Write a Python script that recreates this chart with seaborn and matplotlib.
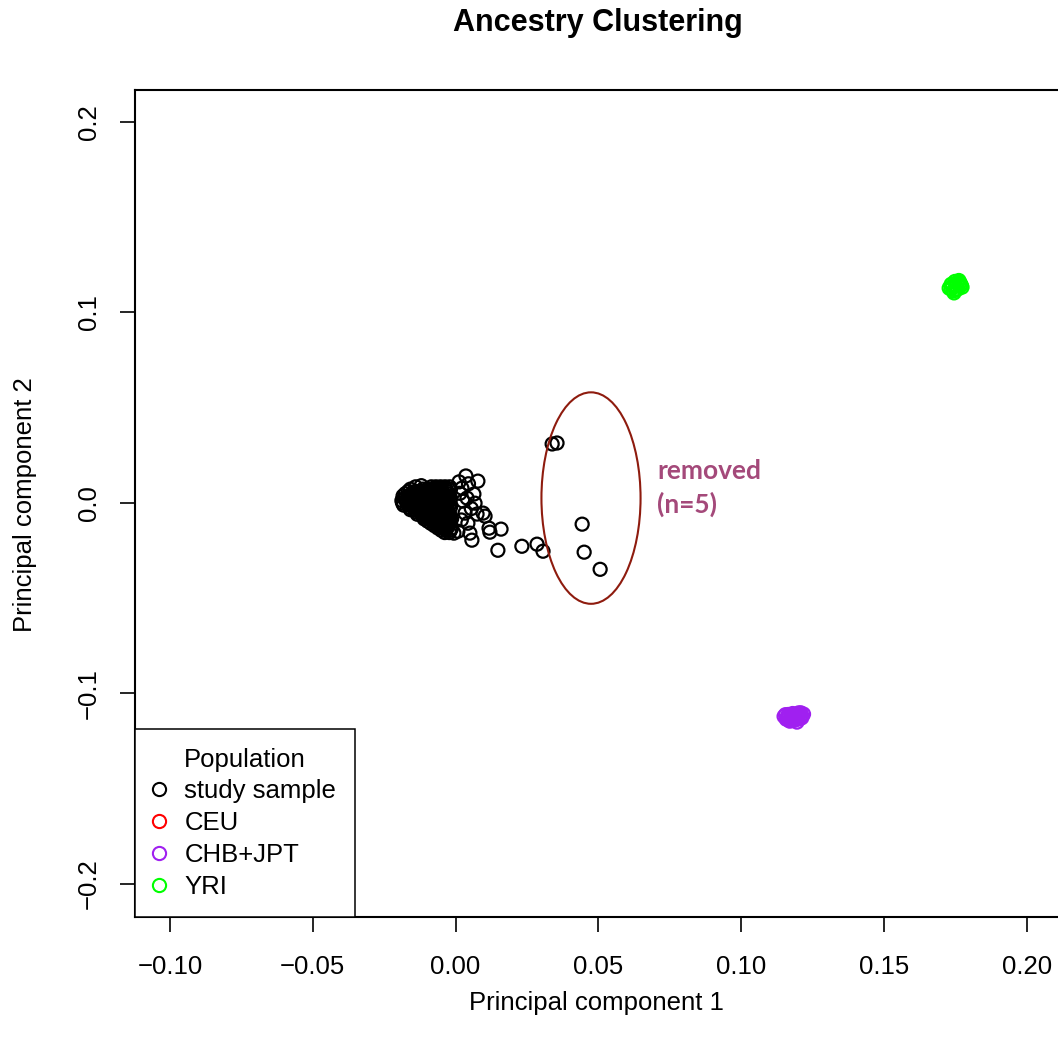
import numpy as np
import pandas as pd
import matplotlib
matplotlib.use("Agg")
import matplotlib.pyplot as plt
from matplotlib.lines import Line2D
from matplotlib.patches import Ellipse
import seaborn as sns

# ---------------- data ----------------
# study sample: dense cluster, row by row
study_pc1 = [
    -0.0140, -0.0120, -0.0085, -0.0069, -0.0053, -0.0037, -0.0021,
    -0.0158, -0.0114, -0.0098, -0.0082, -0.0066, -0.0050, -0.0034, -0.0018,
    -0.0166, -0.0142, -0.0126, -0.0110, -0.0094, -0.0078, -0.0062, -0.0046, -0.0030,
    -0.0176, -0.0154, -0.0138, -0.0122, -0.0106, -0.0090, -0.0074, -0.0058, -0.0042, -0.0026,
    -0.0184, -0.0166, -0.0150, -0.0134, -0.0118, -0.0102, -0.0086, -0.0070, -0.0054, -0.0038, -0.0022,
    -0.0178, -0.0162, -0.0146, -0.0130, -0.0114, -0.0098, -0.0082, -0.0066, -0.0050, -0.0034, -0.0018,
    -0.0188, -0.0174, -0.0158, -0.0142, -0.0126, -0.0110, -0.0094, -0.0078, -0.0062, -0.0046, -0.0030,
    -0.0186, -0.0170, -0.0154, -0.0138, -0.0122, -0.0106, -0.0090, -0.0074, -0.0058, -0.0042, -0.0026,
    -0.0182, -0.0166, -0.0150, -0.0134, -0.0118, -0.0102, -0.0086, -0.0070, -0.0054, -0.0038, -0.0022,
    -0.0162, -0.0146, -0.0130, -0.0114, -0.0098, -0.0082, -0.0066, -0.0050, -0.0034, -0.0018,
    -0.0158, -0.0142, -0.0126, -0.0110, -0.0094, -0.0078, -0.0062, -0.0046, -0.0030,
    -0.0138, -0.0122, -0.0106, -0.0090, -0.0074, -0.0058, -0.0042, -0.0026,
    -0.0134, -0.0118, -0.0102, -0.0086, -0.0070, -0.0054, -0.0038, -0.0022,
    -0.0114, -0.0098, -0.0082, -0.0066, -0.0050, -0.0034, -0.0018,
    -0.0110, -0.0094, -0.0078, -0.0062, -0.0046, -0.0030, -0.0014,
    -0.0098, -0.0082, -0.0066, -0.0050, -0.0034, -0.0018,
    -0.0086, -0.0070, -0.0054, -0.0038, -0.0022,
    -0.0074, -0.0058, -0.0042, -0.0026,
    -0.0062, -0.0046, -0.0030, -0.0014,
    -0.0050, -0.0034, -0.0018,
    -0.0038, -0.0022,
    # scattered samples right of the cluster
    0.0036, 0.0078, 0.0064, 0.0096, 0.0075, 0.0117, 0.0159, 0.0120, 0.0050, 0.0057,
    -0.0006, 0.0148, 0.0232, 0.0285, 0.0306, 0.0022, 0.0026, 0.0068, 0.0033, 0.0043,
    0.0008, 0.0103, 0.0012, 0.0045, 0.0015, 0.0040, 0.0055, 0.0020,
    # the five removed samples
    0.0338, 0.0355, 0.0443, 0.0450, 0.0506,
]
study_pc2 = [
    0.0084, 0.0090, 0.0084, 0.0084, 0.0084, 0.0084, 0.0084,
    0.0072, 0.0072, 0.0072, 0.0072, 0.0072, 0.0072, 0.0072, 0.0072,
    0.0060, 0.0060, 0.0060, 0.0060, 0.0060, 0.0060, 0.0060, 0.0060, 0.0060,
    0.0048, 0.0048, 0.0048, 0.0048, 0.0048, 0.0048, 0.0048, 0.0048, 0.0048, 0.0048,
    0.0036, 0.0036, 0.0036, 0.0036, 0.0036, 0.0036, 0.0036, 0.0036, 0.0036, 0.0036, 0.0036,
    0.0024, 0.0024, 0.0024, 0.0024, 0.0024, 0.0024, 0.0024, 0.0024, 0.0024, 0.0024, 0.0024,
    0.0012, 0.0012, 0.0012, 0.0012, 0.0012, 0.0012, 0.0012, 0.0012, 0.0012, 0.0012, 0.0012,
    0.0000, 0.0000, 0.0000, 0.0000, 0.0000, 0.0000, 0.0000, 0.0000, 0.0000, 0.0000, 0.0000,
    -0.0012, -0.0012, -0.0012, -0.0012, -0.0012, -0.0012, -0.0012, -0.0012, -0.0012, -0.0012, -0.0012,
    -0.0024, -0.0024, -0.0024, -0.0024, -0.0024, -0.0024, -0.0024, -0.0024, -0.0024, -0.0024,
    -0.0036, -0.0036, -0.0036, -0.0036, -0.0036, -0.0036, -0.0036, -0.0036, -0.0036,
    -0.0048, -0.0048, -0.0048, -0.0048, -0.0048, -0.0048, -0.0048, -0.0048,
    -0.0060, -0.0060, -0.0060, -0.0060, -0.0060, -0.0060, -0.0060, -0.0060,
    -0.0072, -0.0072, -0.0072, -0.0072, -0.0072, -0.0072, -0.0072,
    -0.0084, -0.0084, -0.0084, -0.0084, -0.0084, -0.0084, -0.0084,
    -0.0096, -0.0096, -0.0096, -0.0096, -0.0096, -0.0096,
    -0.0108, -0.0108, -0.0108, -0.0108, -0.0108,
    -0.0120, -0.0120, -0.0120, -0.0120,
    -0.0132, -0.0132, -0.0132, -0.0132,
    -0.0144, -0.0144, -0.0144,
    -0.0156, -0.0156,
    0.0141, 0.0114, 0.0046, -0.0054, -0.0059, -0.0133, -0.0138, -0.0154, -0.0159, -0.0196,
    -0.0159, -0.0249, -0.0228, -0.0217, -0.0254, 0.0077, 0.0009, -0.0002, -0.0054, -0.0107,
    -0.0149, -0.0070, 0.0110, 0.0100, 0.0050, 0.0025, -0.0030, -0.0090,
    0.0309, 0.0314, -0.0112, -0.0259, -0.0349,
]

# CEU sits underneath the study sample cluster
ceu_pc1 = [-0.0120, -0.0105, -0.0130]
ceu_pc2 = [0.0010, 0.0000, 0.0020]

chb_pc1 = [0.1150, 0.1158, 0.1165, 0.1170, 0.1175, 0.1180, 0.1185, 0.1190,
           0.1195, 0.1200, 0.1205, 0.1212, 0.1218, 0.1172, 0.1188, 0.1160,
           0.1165, 0.1178, 0.1192, 0.1200, 0.1208, 0.1182, 0.1168, 0.1196,
           0.1155, 0.1212]
chb_pc2 = [-0.1121, -0.1136, -0.1111, -0.1146, -0.1126, -0.1106, -0.1141, -0.1119,
           -0.1151, -0.1103, -0.1133, -0.1116, -0.1109, -0.1131, -0.1131, -0.1126,
           -0.1128, -0.1118, -0.1138, -0.1122, -0.1102, -0.1132, -0.1140, -0.1110,
           -0.1112, -0.1128]

yri_pc1 = [0.1728, 0.1735, 0.1742, 0.1748, 0.1752, 0.1758, 0.1762, 0.1768,
           0.1773, 0.1745, 0.1735, 0.1755, 0.1765, 0.1740, 0.1770, 0.1750]
yri_pc2 = [0.1127, 0.1147, 0.1112, 0.1162, 0.1137, 0.1122, 0.1167, 0.1147,
           0.1132, 0.1102, 0.1122, 0.1152, 0.1157, 0.1137, 0.1142, 0.1117]

populations = ["study sample", "CEU", "CHB+JPT", "YRI"]
pop_colors = ["#000000", "#FF0000", "#A020F0", "#00FF00"]

# ---------------- frame ----------------
df = pd.concat([
    pd.DataFrame({"pc1": ceu_pc1, "pc2": ceu_pc2, "population": "CEU"}),
    pd.DataFrame({"pc1": study_pc1, "pc2": study_pc2, "population": "study sample"}),
    pd.DataFrame({"pc1": chb_pc1, "pc2": chb_pc2, "population": "CHB+JPT"}),
    pd.DataFrame({"pc1": yri_pc1, "pc2": yri_pc2, "population": "YRI"}),
], ignore_index=True)

sns.set_style("white")
plt.rcParams["font.family"] = ["Liberation Sans", "DejaVu Sans"]
plt.rcParams["text.color"] = "black"
plt.rcParams["axes.labelcolor"] = "black"
plt.rcParams["xtick.color"] = "black"
plt.rcParams["ytick.color"] = "black"

W, H = 1058, 1046
fig = plt.figure(figsize=(W / 100, H / 100), dpi=100)
ax = fig.add_axes([135 / W, 1 - 917 / H, (1060 - 135) / W, (917 - 90) / H])

pal = dict(zip(populations, pop_colors))
sns.scatterplot(data=df, x="pc1", y="pc2", hue="population", palette=pal,
                s=88, linewidth=1.6, legend=False, ax=ax)
# hollow circles like R's pch=1
pts = ax.collections[0]
fc = pts.get_facecolors()
pts.set_edgecolors(fc)
pts.set_facecolors("none")

ax.set_xlim(-0.11225, 0.2116)
ax.set_ylim(-0.2174, 0.2167)
ax.set_xticks([-0.10, -0.05, 0.00, 0.05, 0.10, 0.15, 0.20])
ax.set_xticklabels(["\u22120.10", "\u22120.05", "0.00", "0.05", "0.10", "0.15", "0.20"])
ax.set_yticks([-0.2, -0.1, 0.0, 0.1, 0.2])
ax.set_yticklabels(["\u22120.2", "\u22120.1", "0.0", "0.1", "0.2"], rotation=90, va="center")
ax.set_xlabel("")
ax.set_ylabel("")
ax.tick_params(axis="both", direction="out", length=10.5, width=1.2, labelsize=18.5,
               color="black", labelcolor="black", bottom=True, left=True)
ax.tick_params(axis="x", pad=17)
ax.tick_params(axis="y", pad=14)
for sp in ax.spines.values():
    sp.set_color("black")
    sp.set_linewidth(1.5)

# removed samples annotation
ax.add_patch(Ellipse((0.0474, 0.0025), 0.0347, 0.111, fill=False,
                     edgecolor="#8E1B0E", linewidth=1.5, zorder=3))
ax.text(0.0705, 0.0125, "removed", color="#A4497A", fontsize=19,
        fontweight="bold", family=["Lato", "DejaVu Sans"], va="baseline", ha="left")
ax.text(0.0705, -0.0053, "(n=5)", color="#A4497A", fontsize=19,
        fontweight="bold", family=["Lato", "DejaVu Sans"], va="baseline", ha="left")

# legend
handles = [Line2D([], [], marker="o", ls="none", mfc="none", mec=c, ms=9.5, mew=1.5)
           for c in pop_colors]
leg = ax.legend(handles, populations, title="Population", loc="lower left",
                bbox_to_anchor=(0, 0), borderaxespad=0, fancybox=False,
                frameon=True, framealpha=1, edgecolor="black", fontsize=18.5,
                title_fontsize=18.5, handlelength=0.4, handletextpad=0.8,
                borderpad=0.72, labelspacing=0.3, numpoints=1)
leg.get_frame().set_linewidth(1.1)

# titles
fig.text(598 / W, 1 - 23.5 / H, "Ancestry Clustering", fontsize=22,
         fontweight="bold", ha="center", va="center")
fig.text(596.5 / W, 1 - 1003 / H, "Principal component 1", fontsize=18.5,
         ha="center", va="center")
fig.text(25 / W, 1 - 505 / H, "Principal component 2", fontsize=18.5,
         ha="center", va="center", rotation=90)

fig.savefig("out.png", dpi=100)
